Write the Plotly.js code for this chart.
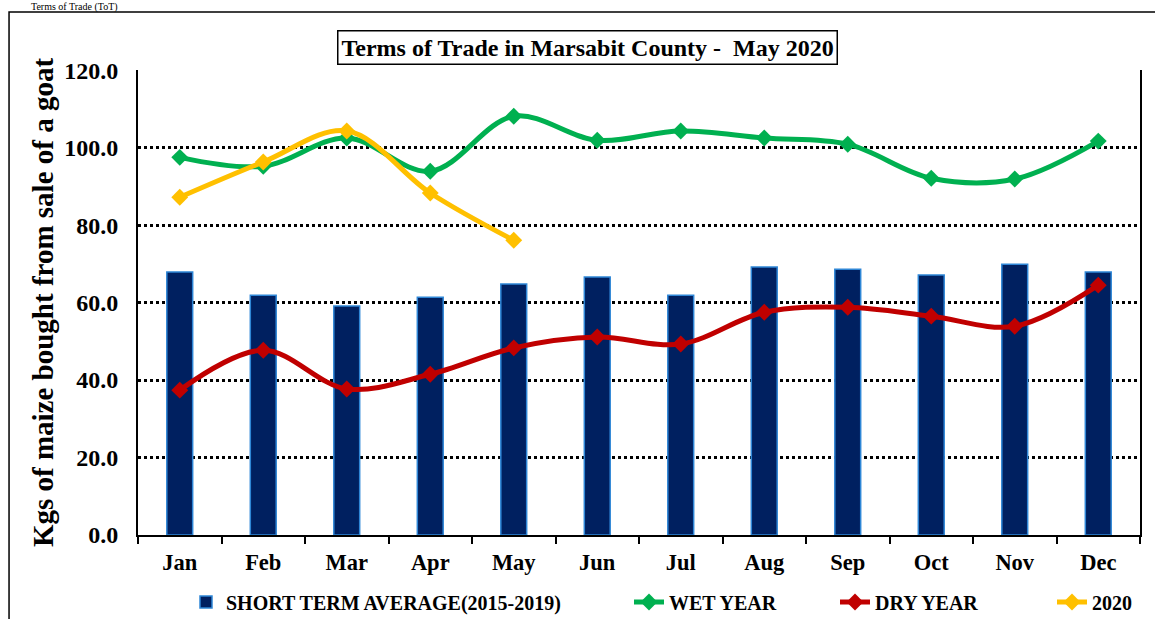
<!DOCTYPE html>
<html>
<head>
<meta charset="utf-8">
<script src="https://cdn.plot.ly/plotly-3.0.1.min.js"></script>
<style>
  html, body { margin: 0; padding: 0; background: #fff; }
  #chart { width: 1155px; height: 619px; }
</style>
</head>
<body>
<div id="chart"></div>
<script>
const months = ["Jan","Feb","Mar","Apr","May","Jun","Jul","Aug","Sep","Oct","Nov","Dec"];
const shortTermAverage = [67.9, 61.9, 59.1, 61.4, 64.8, 66.6, 61.9, 69.2, 68.6, 67.1, 69.9, 67.9];
const wetYear = [97.5, 95.2, 102.5, 93.9, 108.1, 101.9, 104.3, 102.5, 100.9, 92.1, 91.9, 101.7];
const dryYear = [37.4, 47.7, 37.7, 41.5, 48.3, 51.1, 49.3, 57.5, 58.8, 56.5, 53.9, 64.5];
const months2020 = ["Jan","Feb","Mar","Apr","May"];
const year2020 = [87.2, 96.3, 104.3, 88.3, 76.1];
const yTicks = [0, 20, 40, 60, 80, 100, 120];
const yTickLabels = ["0.0","20.0","40.0","60.0","80.0","100.0","120.0"];

const serif = "'Liberation Serif', 'Times New Roman', serif";
const legendFont = {family: serif, size: 20, color: '#000', weight: 'bold'};

const lineTrace = (name, x, y, color, legendId) => ({
  type: 'scatter', mode: 'lines+markers', name: name, x: x, y: y, legend: legendId,
  line: {color: color, width: 5, shape: 'spline', smoothing: 1},
  marker: {symbol: 'diamond', size: 13, color: color}
});

const traces = [
  {
    type: 'bar', name: 'SHORT TERM AVERAGE(2015-2019)', x: months, y: shortTermAverage,
    width: 0.31, legend: 'legend',
    marker: {color: '#002060', line: {color: '#2E86D6', width: 1.5}}
  },
  lineTrace('WET YEAR', months, wetYear, '#00B050', 'legend2'),
  lineTrace('DRY YEAR', months, dryYear, '#C00000', 'legend3'),
  lineTrace('2020', months2020, year2020, '#FFC000', 'legend4')
];

const mkLegend = (xPx) => ({
  orientation: 'h', xref: 'container', yref: 'container',
  x: xPx / 1155, xanchor: 'left', y: 1 - 602 / 619, yanchor: 'middle',
  font: legendFont, bgcolor: 'rgba(0,0,0,0)'
});

const layout = {
  width: 1155, height: 619,
  margin: {l: 138, r: 15, t: 70, b: 84},
  paper_bgcolor: '#fff', plot_bgcolor: '#fff',
  font: {family: serif, color: '#000'},
  showlegend: true,
  legend: mkLegend(186),
  legend2: mkLegend(629),
  legend3: mkLegend(835),
  legend4: mkLegend(1052),
  xaxis: {
    type: 'category', categoryorder: 'array', categoryarray: months,
    range: [-0.5, 11.5],
    showline: true, linecolor: '#000', linewidth: 2,
    ticks: 'outside', tickson: 'boundaries', ticklen: 7, tickwidth: 2, tickcolor: '#000',
    ticklabelstandoff: 6,
    showgrid: false,
    tickfont: {family: serif, size: 22.5, color: '#000', weight: 'bold'}
  },
  yaxis: {
    range: [0, 120.05], tickvals: yTicks, ticktext: yTickLabels,
    showline: true, mirror: true, linecolor: '#000', linewidth: 2,
    ticks: '', ticklabelstandoff: 13,
    showgrid: true, gridcolor: '#000', gridwidth: 3, griddash: 'dot',
    zeroline: false,
    tickfont: {family: serif, size: 24, color: '#000', weight: 'bold'},
    title: {text: 'Kgs of maize bought from sale of a goat', standoff: 2,
            font: {family: serif, size: 29, color: '#000', weight: 'bold'}}
  },
  annotations: [
    {
      xref: 'paper', yref: 'paper', x: 0.449, y: 1.049, xanchor: 'center', yanchor: 'middle',
      text: 'Terms of Trade in Marsabit County -  May 2020', showarrow: false,
      font: {family: serif, size: 24, color: '#000', weight: 'bold'},
      bordercolor: '#000', borderwidth: 1.5, borderpad: 3, bgcolor: '#fff'
    },
    {
      xref: 'paper', yref: 'paper', x: -0.1078, y: 1.1505, xanchor: 'left', yanchor: 'top',
      text: 'Terms of Trade (ToT)', showarrow: false, borderpad: 0,
      font: {family: serif, size: 10, color: '#000'}
    }
  ],
  shapes: [
    {type: 'rect', xref: 'paper', yref: 'paper', x0: -0.1287, x1: 1.05, y0: -0.3, y1: 1.1247,
     line: {color: '#000', width: 1.5}, fillcolor: 'rgba(0,0,0,0)', layer: 'below'}
  ]
};

Plotly.newPlot('chart', traces, layout, {displayModeBar: false, staticPlot: true});
</script>
</body>
</html>
